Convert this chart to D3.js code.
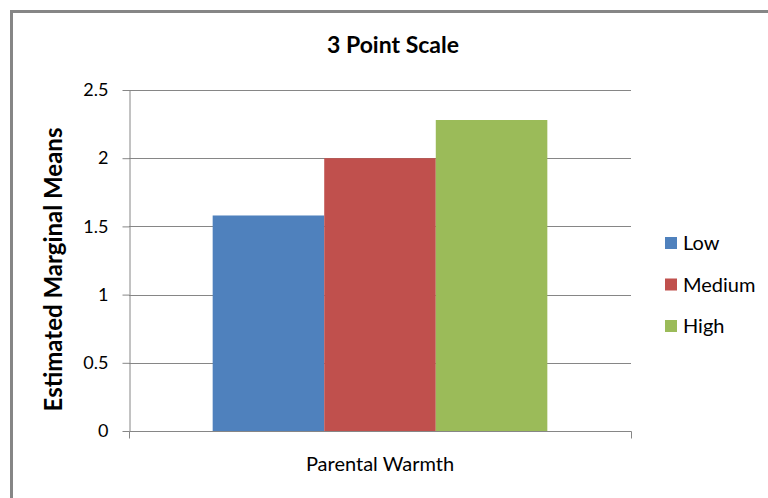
<!DOCTYPE html>
<html>
<head>
<meta charset="utf-8">
<script src="https://d3js.org/d3.v7.min.js"></script>
<style>
  html, body { margin: 0; padding: 0; background: #fff; }
  svg { display: block; }
  text { font-family: Lato, "Open Sans", sans-serif; fill: #000; }
</style>
</head>
<body>
<svg id="chart" width="768" height="498"></svg>
<script>
// Estimated marginal means of the 3 point scale by level of parental warmth
const categories = ["Parental Warmth"];
const seriesNames = ["Low", "Medium", "High"];
const lowValues = [1.58];
const mediumValues = [2.0];
const highValues = [2.28];
const yTicks = [0, 0.5, 1, 1.5, 2, 2.5];
const colors = ["#4F81BD", "#C0504D", "#9BBB59"];

const seriesValues = [lowValues, mediumValues, highValues];
const rows = categories.map((c, i) => ({
  category: c,
  values: seriesNames.map((s, j) => ({ series: s, value: seriesValues[j][i] }))
}));

const svg = d3.select("#chart");
const W = 768, H = 498;
const margin = { left: 129, right: 137, top: 90, bottom: 67 };
const plotW = W - margin.left - margin.right;
const plotH = H - margin.top - margin.bottom;

// Outer frame (only top and left edges fall inside the view)
svg.append("rect")
  .attr("x", 11.5).attr("y", 11.5)
  .attr("width", 780).attr("height", 520)
  .attr("fill", "none")
  .attr("stroke", "#868686")
  .attr("stroke-width", 3);

const g = svg.append("g").attr("transform", `translate(${margin.left},${margin.top})`);

const x = d3.scaleBand().domain(categories).range([0, plotW]).padding(0.2);
const xs = d3.scaleBand().domain(seriesNames).range([0, x.bandwidth()]).padding(0);
const y = d3.scaleLinear().domain([0, 2.5]).range([plotH, 0]);

// Horizontal gridlines
g.append("g")
  .selectAll("line")
  .data(yTicks.filter(t => t > 0))
  .join("line")
  .attr("x1", 0).attr("x2", plotW)
  .attr("y1", d => Math.round(y(d)) + 0.5).attr("y2", d => Math.round(y(d)) + 0.5)
  .attr("stroke", "#868686").attr("stroke-width", 1);

// Bars
g.append("g")
  .selectAll("g")
  .data(rows)
  .join("g")
  .attr("transform", d => `translate(${x(d.category)},0)`)
  .selectAll("rect")
  .data(d => d.values)
  .join("rect")
  .attr("x", d => xs(d.series))
  .attr("width", xs.bandwidth())
  .attr("y", d => y(d.value))
  .attr("height", d => plotH - y(d.value))
  .attr("fill", (d, i) => colors[i]);

// Y axis
const yAxis = g.append("g")
  .attr("transform", "translate(0.5,0)")
  .call(d3.axisLeft(y).tickValues(yTicks).tickFormat(d3.format("")).tickSize(7).tickSizeOuter(0).tickPadding(14));
yAxis.select(".domain").attr("stroke", "#868686");
yAxis.selectAll(".tick line").attr("stroke", "#868686");
yAxis.selectAll(".tick text").attr("font-size", 18).attr("fill", "#000")
  .style("font-family", "Lato, 'Open Sans', sans-serif");

// X axis
const xAxis = g.append("g")
  .attr("transform", `translate(0,${plotH + 0.5})`)
  .call(d3.axisBottom(x).tickSize(0).tickPadding(25));
xAxis.select(".domain").attr("stroke", "#868686").attr("d", `M0.5,7V0H${plotW + 0.5}V7`);
xAxis.selectAll(".tick text").attr("font-size", 20).attr("fill", "#000")
  .style("font-family", "Lato, 'Open Sans', sans-serif");

// Title
svg.append("text")
  .attr("x", 393).attr("y", 53)
  .attr("text-anchor", "middle")
  .attr("font-size", 23).attr("font-weight", "bold")
  .text("3 Point Scale");

// Y axis title
svg.append("text")
  .attr("transform", `translate(62,${margin.top + plotH / 2 + 9}) rotate(-90)`)
  .attr("text-anchor", "middle")
  .attr("font-size", 24).attr("font-weight", "bold")
  .text("Estimated Marginal Means");

// Legend
const legend = svg.append("g").attr("transform", "translate(665,243)");
const item = legend.selectAll("g")
  .data(seriesNames)
  .join("g")
  .attr("transform", (d, i) => `translate(0,${i * 41.5})`);
item.append("rect")
  .attr("x", 0).attr("y", -6).attr("width", 12).attr("height", 12)
  .attr("fill", (d, i) => colors[i]);
item.append("text")
  .attr("x", 18).attr("y", 0).attr("dy", "0.35em")
  .attr("font-size", 20)
  .text(d => d);
</script>
</body>
</html>
